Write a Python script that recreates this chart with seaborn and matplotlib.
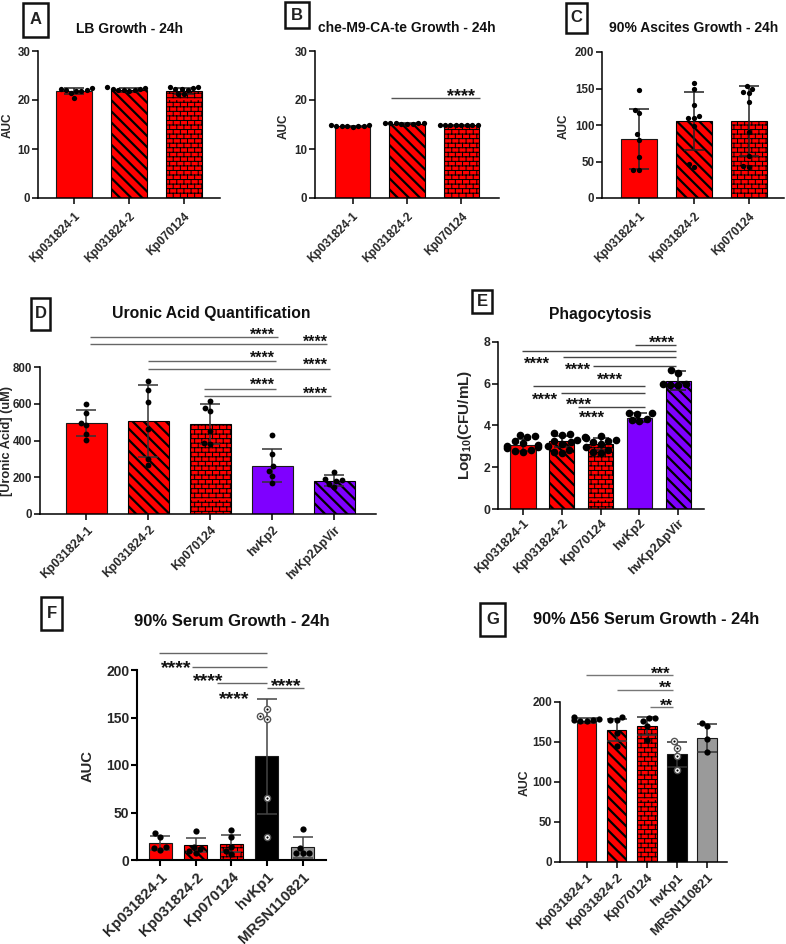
import warnings
warnings.filterwarnings('ignore')
import numpy as np
import pandas as pd
import matplotlib
matplotlib.use('Agg')
import matplotlib.pyplot as plt
from matplotlib import hatch as mhatch
from matplotlib.path import Path
from matplotlib.patches import Rectangle
import matplotlib.transforms as mtransforms
import seaborn as sns

# ---------------- data ----------------
KP1, KP2, KP3 = 'Kp031824-1', 'Kp031824-2', 'Kp070124'
HV2, HV2D, HV1, MRSN = 'hvKp2', 'hvKp2\u0394pVir', 'hvKp1', 'MRSN110821'

A_cats = [KP1, KP2, KP3]
A_means = [21.8, 22.0, 21.8]
A_sd = [0.6, 0.35, 0.6]
A_points = [[22.0, 22.4, 22.3, 22.1, 20.5, 21.9, 21.4, 21.9],
            [22.1, 22.4, 22.6, 22.3, 21.9, 22.0, 22.1, 22.2],
            [22.2, 22.6, 22.0, 21.2, 22.5, 21.3, 22.6, 22.2]]

B_cats = [KP1, KP2, KP3]
B_means = [14.6, 15.2, 14.85]
B_sd = [0.15, 0.1, 0.1]
B_points = [[14.8, 14.7, 14.6, 14.8, 14.5, 14.7, 14.6, 14.7],
            [15.3, 15.2, 15.4, 15.3, 15.2, 15.3, 15.3, 15.2],
            [14.9, 15.0, 14.8, 14.9, 14.9, 14.8, 14.9, 14.8]]

C_cats = [KP1, KP2, KP3]
C_means = [80.5, 105.5, 106.0]
C_sd = [41, 40, 48]
C_points = [[148, 121, 116, 87, 80, 56, 39, 39],
            [158, 150, 128, 112, 110, 110, 99, 46, 42],
            [153, 150, 145, 144, 132, 90, 58, 44, 42]]

D_cats = [KP1, KP2, KP3, HV2, HV2D]
D_means = [493, 505, 490, 262, 180]
D_sd = [71, 195, 108, 90, 30]
D_points = [[600, 549, 495, 482, 436, 404],
            [725, 676, 607, 464, 300, 264],
            [613, 576, 562, 453, 380, 385],
            [431, 329, 262, 236, 209, 167],
            [231, 189, 185, 180, 164, 149]]

E_cats = [KP1, KP2, KP3, HV2, HV2D]
E_means = [3.07, 3.25, 3.1, 4.37, 6.15]
E_sd = [0.27, 0.27, 0.28, 0.22, 0.45]
E_points = [[3.55, 3.5, 3.45, 3.25, 3.15, 3.05, 3.0, 2.95, 2.9, 2.85, 2.8, 2.75],
            [3.65, 3.6, 3.55, 3.3, 3.25, 3.2, 3.1, 3.0, 2.85, 2.75, 2.7],
            [3.5, 3.45, 3.4, 3.3, 3.25, 3.2, 3.1, 2.95, 2.85, 2.75, 2.7],
            [4.6, 4.6, 4.55, 4.3, 4.25, 4.2],
            [6.65, 6.5, 6.0, 5.95, 5.95, 6.0]]

F_cats = [KP1, KP2, KP3, HV1, MRSN]
F_means = [18, 15.5, 17, 109, 13.5]
F_sd = [7, 7.5, 9, 61, 11]
F_points = [[24.5, 28, 14, 10.5, 13],
            [31, 7, 12, 14, 9],
            [31.5, 24, 10, 6, 14],
            [148, 158.5, 151.5, 65, 24.5],
            [32.5, 13, 7, 7.7, 7.7]]

G_cats = [KP1, KP2, KP3, HV1, MRSN]
G_means = [176.5, 165, 170, 134.5, 155]
G_sd = [3, 14, 11, 16, 17.5]
G_points = [[178, 181, 177, 176, 179, 176],
            [181, 177, 178, 161, 145],
            [176, 179.6, 180, 169.6, 152],
            [151, 142, 132, 115],
            [173.7, 169.6, 153.7, 138]]

# significance annotations: (x_start, x_end, line_y, label, text_x, text_center_y)
B_sig = [(0.71, 2.35, 20.5, '****', 2.0, 22.0)]
D_sig = [(0.06, 3.09, 963, '****', 2.84, 996),
         (0.06, 3.88, 925, '****', 3.69, 958),
         (1.0, 3.06, 833, '****', 2.84, 871),
         (1.0, 3.93, 789, '****', 3.69, 833),
         (1.9, 3.06, 680, '****', 2.84, 724),
         (1.9, 3.95, 642, '****', 3.69, 680)]
E_sig = [(2.89, 3.95, 7.86, '****', 3.58, 8.18),
         (-0.02, 3.95, 7.58, '****', 0.35, 7.17),
         (1.04, 3.95, 7.27, '****', 1.42, 6.87),
         (1.81, 3.95, 6.87, '****', 2.24, 6.42),
         (0.25, 3.14, 5.91, '****', 0.58, 5.46),
         (0.99, 3.14, 5.54, '****', 1.44, 5.22),
         (1.42, 3.14, 4.90, '****', 1.77, 4.58)]
F_sig = [(-0.03, 3.0, 218, '****', 0.45, 208.8),
         (0.89, 3.0, 203.5, '****', 1.35, 194.7),
         (1.61, 3.0, 186.7, '****', 2.08, 176.5),
         (3.0, 4.03, 180.7, '****', 3.54, 189.5)]
G_sig = [(-0.03, 2.86, 234, '***', 2.46, 241),
         (1.02, 2.86, 214.6, '**', 2.61, 224),
         (2.09, 2.86, 193.75, '**', 2.66, 201.6)]

COLORS = {KP1: '#FF0000', KP2: '#FF0000', KP3: '#FF0000', HV2: '#7F00FF',
          HV2D: '#7F00FF', HV1: '#000000', MRSN: '#9A9A9A'}
HATCH = {KP2: '\\\\\\', KP3: 'b', HV2D: '\\\\\\'}
HATCH_LW = {KP2: 1.6, KP3: 0.7, HV2D: 1.6}
OPEN_POINTS = {HV1}


# ---------------- brick hatch ----------------
class BrickHatch(mhatch.HatchPatternBase):
    ROWS = 22
    COLS = 14

    def __init__(self, hatch, density):
        if 'b' in hatch:
            self.num_vertices = 2 * self.ROWS * (1 + self.COLS)
        else:
            self.num_vertices = 0

    def set_vertices_and_codes(self, vertices, codes):
        R, C = self.ROWS, self.COLS
        segs = []
        for r in range(R):
            y0 = (r + 0.5) / R
            segs.append(((0.0, y0), (1.0, y0)))
            off = 0.5 if r % 2 else 0.0
            for c in range(C):
                x = (c + 0.25 + off) / C
                segs.append(((x, y0), (x, y0 + 1.0 / R)))
        vertices[:] = np.array(segs, dtype=float).reshape(-1, 2)
        codes[0::2] = Path.MOVETO
        codes[1::2] = Path.LINETO


mhatch._hatch_types.append(BrickHatch)

# ---------------- style ----------------
sns.set_theme(style='ticks')
plt.rcParams['font.family'] = ['Liberation Sans', 'DejaVu Sans']
plt.rcParams['font.weight'] = 'bold'
plt.rcParams['axes.labelweight'] = 'bold'
plt.rcParams['mathtext.fontset'] = 'custom'
plt.rcParams['mathtext.rm'] = 'Liberation Sans:bold'
plt.rcParams['mathtext.bf'] = 'Liberation Sans:bold'
plt.rcParams['mathtext.it'] = 'Liberation Sans:bold:italic'
plt.rcParams['hatch.linewidth'] = 1.6
plt.rcParams['hatch.color'] = 'black'

W, H = 786, 944
fig = plt.figure(figsize=(W / 100, H / 100), dpi=100)
fig.patch.set_facecolor('white')


def add_ax(x0, y0, x1, y1):
    return fig.add_axes([x0 / W, 1 - y1 / H, (x1 - x0) / W, (y1 - y0) / H])


def px_to_axes(ax, px, py):
    l, b, w, h = ax.get_position().bounds
    return ((px / W) - l) / w, ((1 - py / H) - b) / h


open_colls = []


def draw_panel(ax, cats, means, sds, points, xlim, ylim, yticks, psize,
               xfs, yfs, ylabel, ylfs, ylab_px, spw, xpad, capsize,
               ecolor='#222222'):
    df_bar = pd.DataFrame({'cat': cats, 'val': means})
    sns.barplot(data=df_bar, x='cat', y='val', hue='cat', order=cats,
                hue_order=cats, palette=[COLORS[c] for c in cats],
                width=0.65, errorbar=None, edgecolor='#1a1a1a',
                linewidth=0.8, legend=False, ax=ax, saturation=1)
    for p in ax.patches:
        idx = int(round(p.get_x() + p.get_width() / 2))
        c = cats[idx]
        if c in HATCH:
            p.set_hatch(HATCH[c])
            p.set_edgecolor('black')
            if hasattr(p, 'set_hatch_linewidth'):
                p.set_hatch_linewidth(HATCH_LW[c])
    ax.errorbar(range(len(cats)), means, yerr=sds, fmt='none', ecolor=ecolor,
                elinewidth=1.1, capsize=capsize, capthick=1.1, zorder=4)
    rows = [(c, v) for c, vals in zip(cats, points) for v in vals]
    df_pts = pd.DataFrame(rows, columns=['cat', 'val'])
    n0 = len(ax.collections)
    sns.swarmplot(data=df_pts, x='cat', y='val', order=cats, color='black',
                  size=psize, ax=ax, zorder=5)
    for coll in ax.collections[n0:]:
        offs = coll.get_offsets()
        if len(offs) == 0:
            continue
        idx = int(round(float(np.mean(offs[:, 0]))))
        if 0 <= idx < len(cats) and cats[idx] in OPEN_POINTS:
            coll.set_facecolor('white')
            coll.set_edgecolor('#555555')
            coll.set_linewidth(1.0)
            open_colls.append((ax, coll, psize))
    ax.set_xlim(*xlim)
    ax.set_ylim(*ylim)
    ax.set_yticks(yticks)
    ax.set_xlabel('')
    ax.set_ylabel(ylabel, fontsize=ylfs, fontweight='bold', va='center')
    ax.yaxis.set_label_coords(*px_to_axes(ax, *ylab_px))
    sns.despine(ax=ax)
    for s in ['left', 'bottom']:
        ax.spines[s].set_linewidth(spw)
        ax.spines[s].set_color('black')
    ax.tick_params(axis='y', direction='out', length=4, width=spw,
                   labelsize=yfs, pad=1.5, color='black')
    ax.tick_params(axis='x', direction='out', length=4, width=spw,
                   labelsize=xfs, pad=xpad, color='black')
    for t in ax.get_xticklabels():
        t.set_rotation(45)
        t.set_ha('right')
        t.set_va('top')
        t.set_rotation_mode('anchor')
        t.set_fontweight('bold')
    for t in ax.get_yticklabels():
        t.set_fontweight('bold')
    ax.set_facecolor('white')


def draw_sig(ax, sigs, fs, lcolor='#555555'):
    for x0, x1, y, lab, tx, ty in sigs:
        ax.plot([x0, x1], [y, y], color=lcolor, lw=1.0, clip_on=False,
                zorder=6, solid_capstyle='butt')
        tr = mtransforms.offset_copy(ax.transData, fig=fig, x=0,
                                     y=-0.58 * fs, units='points')
        ax.text(tx, ty, lab, transform=tr, ha='center', va='baseline',
                fontsize=fs, fontweight='bold', color='#111111',
                clip_on=False)


def panel_label(letter, x0, y0, x1, y1, fs=12):
    fig.add_artist(Rectangle((x0 / W, 1 - y1 / H), (x1 - x0) / W,
                             (y1 - y0) / H, transform=fig.transFigure,
                             fill=False, lw=1.8, edgecolor='#111111'))
    fig.text((x0 + x1) / 2 / W, 1 - (y0 + y1) / 2 / H, letter,
             ha='center', va='center', fontsize=fs, fontweight='bold',
             color='#222222')


def title(txt, x, ybase, fs):
    fig.text(x / W, 1 - ybase / H, txt, ha='center', va='baseline',
             fontsize=fs, fontweight='bold', color='#111111')


# ---------------- panels ----------------
axA = add_ax(38, 51, 220, 198)
draw_panel(axA, A_cats, A_means, A_sd, A_points, (-0.655, 2.655), (0, 30),
           [0, 10, 20, 30], 3.8, 8.5, 8.3, 'AUC', 8.5, (7.5, 125), 1.1, 5, 7)
axB = add_ax(315, 51, 499, 198)
draw_panel(axB, B_cats, B_means, B_sd, B_points, (-0.69, 2.69), (0, 30),
           [0, 10, 20, 30], 3.8, 8.5, 8.3, 'AUC', 8.5, (283.5, 126), 1.1, 5, 7)
draw_sig(axB, B_sig, 13)
axC = add_ax(602, 52, 784, 198)
draw_panel(axC, C_cats, C_means, C_sd, C_points, (-0.67, 2.64), (0, 200),
           [0, 50, 100, 150, 200], 3.8, 8.5, 8.3, 'AUC', 8.5, (564, 126), 1.1, 5, 7)
axD = add_ax(40, 367, 376, 514)
draw_panel(axD, D_cats, D_means, D_sd, D_points, (-0.75, 4.67), (0, 800),
           [0, 200, 400, 600, 800], 4.2, 8.8, 8.3, '[Uronic Acid] (uM)', 9.2,
           (7.5, 441), 1.1, 3, 7, ecolor='#333333')
draw_sig(axD, D_sig, 11.5, lcolor='#666666')
axE = add_ax(498, 342, 704, 509)
draw_panel(axE, E_cats, E_means, E_sd, E_points, (-0.64, 4.66), (0, 8),
           [0, 2, 4, 6, 8], 5.5, 9.2, 8.8, r'Log$_{\mathbf{10}}$(CFU/mL)', 11,
           (464.5, 425), 1.1, 2, 5.5)
draw_sig(axE, E_sig, 12, lcolor='#444444')
axF = add_ax(137, 670, 326, 860)
draw_panel(axF, F_cats, F_means, F_sd, F_points, (-0.65, 4.66), (0, 200),
           [0, 50, 100, 150, 200], 4.5, 10.8, 10, 'AUC', 10.6, (87.5, 766), 1.5,
           3, 7, ecolor='#444444')
draw_sig(axF, F_sig, 14, lcolor='#666666')
axG = add_ax(560, 702, 727, 862)
draw_panel(axG, G_cats, G_means, G_sd, G_points, (-0.88, 4.66), (0, 200),
           [0, 50, 100, 150, 200], 4.5, 9.5, 8.5, 'AUC', 8.8, (525, 783), 1.1,
           3, 7, ecolor='#333333')
draw_sig(axG, G_sig, 12, lcolor='#777777')

# titles
title('LB Growth - 24h', 129, 32.7, 10)
title('che-M9-CA-te Growth - 24h', 407, 32.3, 10)
title('90% Ascites Growth - 24h', 693.5, 32.3, 10)
title('Uronic Acid Quantification', 210.8, 317.7, 11.3)
title('Phagocytosis', 600.7, 319.3, 11.3)
title('90% Serum Growth - 24h', 231.7, 626, 12)
title('90% \u039456 Serum Growth - 24h', 646.3, 624.3, 11.8)

# panel letters
panel_label('A', 23, 3, 48, 37)
panel_label('B', 285, 2, 309, 28)
panel_label('C', 566, 3, 587, 33)
panel_label('D', 31, 298, 50, 330)
panel_label('E', 472, 290, 492, 313)
panel_label('F', 41, 597, 62, 630)
panel_label('G', 480, 603, 505, 636)

# centre dots for open markers (after swarm layout is computed)
fig.canvas.draw()
for ax, coll, ps in open_colls:
    offs = np.asarray(coll.get_offsets())
    ax.scatter(offs[:, 0], offs[:, 1], s=(ps * 0.35) ** 2, color='black',
               zorder=7, linewidths=0)

fig.savefig('out.png', dpi=100, facecolor='white')
